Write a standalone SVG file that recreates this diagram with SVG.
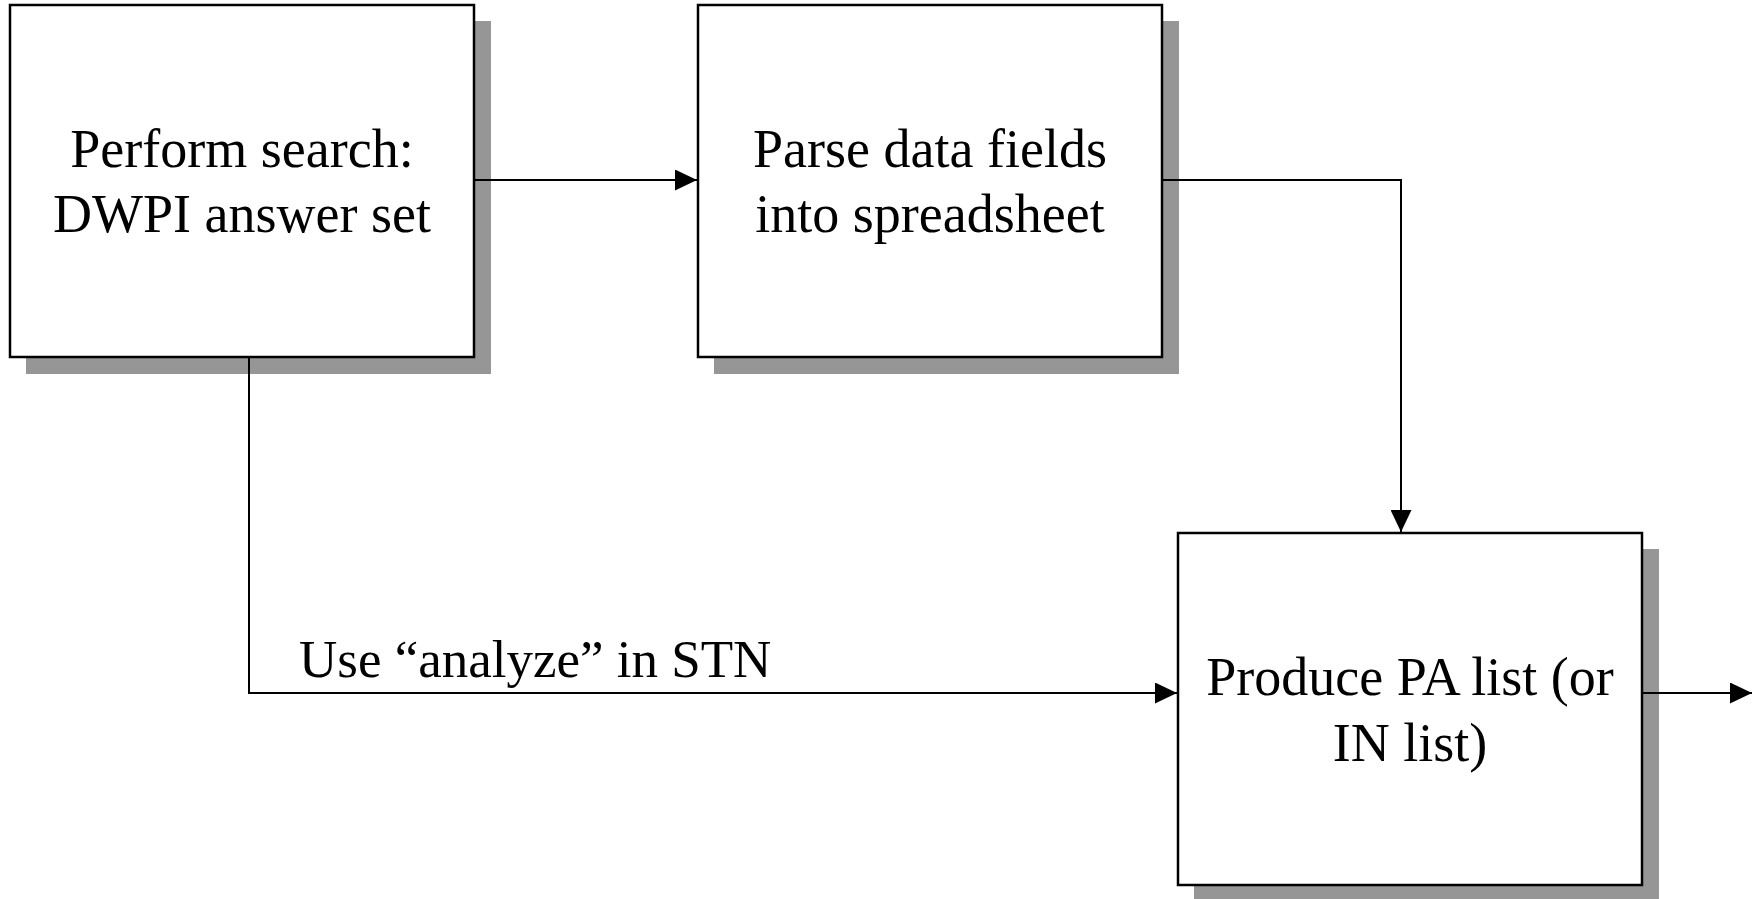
<svg xmlns="http://www.w3.org/2000/svg" width="1752" height="899" viewBox="0 0 1752 899">
<style>
.shadow{fill:#969696;stroke:none}
.box{fill:#fff;stroke:#000;stroke-width:2.5}
.lbl{font-family:"Liberation Serif","Times New Roman",serif;font-size:54px;fill:#000}
.mid{text-anchor:middle}
.conn{fill:none;stroke:#000;stroke-width:2}
</style>
<defs>
<marker id="arr" markerWidth="22" markerHeight="21" refX="22" refY="10.5" orient="auto" markerUnits="userSpaceOnUse">
<path d="M0,0 L22,10.5 L0,21 Z" fill="#000"/>
</marker>
</defs>
<rect x="0" y="0" width="1752" height="899" fill="#fff"/>
<g id="node-search">
<rect class="shadow" x="26" y="21" width="465" height="353"/>
<rect class="box" x="10" y="5" width="464" height="352"/>
<text class="lbl mid" x="242" y="167">Perform search:</text>
<text class="lbl mid" x="242" y="232">DWPI answer set</text>
</g>
<g id="node-parse">
<rect class="shadow" x="714" y="21" width="465" height="353"/>
<rect class="box" x="698" y="5" width="464" height="352"/>
<text class="lbl mid" x="930" y="167">Parse data fields</text>
<text class="lbl mid" x="930" y="232">into spreadsheet</text>
</g>
<g id="node-produce">
<rect class="shadow" x="1194" y="549" width="465" height="353"/>
<rect class="box" x="1178" y="533" width="464" height="352"/>
<text class="lbl mid" x="1410" y="695">Produce PA list (or</text>
<text class="lbl mid" x="1410" y="761">IN list)</text>
</g>
<g id="connectors">
<path class="conn" d="M474,180 H697" marker-end="url(#arr)"/>
<path class="conn" d="M1162,180 H1401 V532" marker-end="url(#arr)"/>
<path class="conn" d="M249,357 V693 H1177" marker-end="url(#arr)"/>
<path class="conn" d="M1642,693 H1752" marker-end="url(#arr)"/>
<text class="lbl" x="299" y="677" style="font-size:53px">Use “analyze” in STN</text>
</g>
</svg>
